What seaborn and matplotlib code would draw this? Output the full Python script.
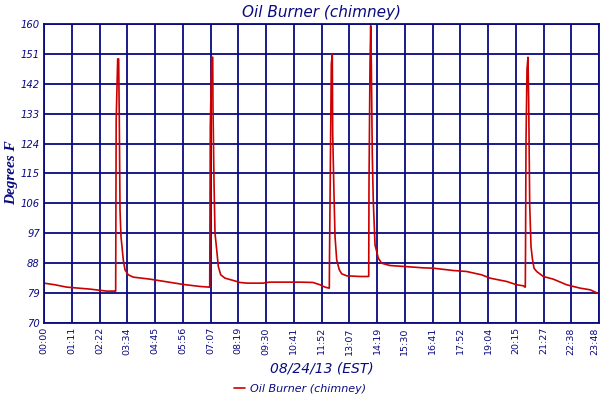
import matplotlib
matplotlib.use("Agg")
import matplotlib.pyplot as plt
import seaborn as sns
import numpy as np
import pandas as pd

# ---- data (minutes after midnight, degrees F) ----
minutes = [0, 28.3, 58.4, 118.4, 161.3, 183.5, 184.4, 185.7, 189.6, 192.1, 193.7, 195.6,
           198.1, 201.5, 204, 208.4, 216.9, 229.8, 272.7, 315.7, 358.4, 401.4, 425.3,
           426.4, 427.9, 431.5, 434.1, 434.8, 437.4, 440, 444.4, 448.5, 454.7, 465.7,
           487.1, 504.3, 522.3, 563.5, 573, 581.5, 658.7, 692.1, 710.1, 723, 733.3,
           734.1, 734.6, 737.7, 739.3, 741.8, 742.8, 746.2, 748.8, 753.1, 759.8, 766,
           778.9, 813.1, 834.4, 835.5, 836.2, 838.8, 840.6, 842.2, 844.7, 847.3, 851.7,
           856, 860.2, 868.9, 890.3, 928.9, 976, 1001.7, 1053.1, 1087.6, 1126.2,
           1147.6, 1190.5, 1216.3, 1233.3, 1237.6, 1238.4, 1238.9, 1240.2, 1242.8,
           1245.3, 1247.1, 1249.7, 1253.1, 1256.4, 1260.8, 1267.7, 1284.7, 1310.4,
           1344.9, 1379.1, 1404.9, 1428]
temps = [82.0, 81.5, 80.8, 80.2, 79.6, 79.6, 79.6, 131, 149.5, 149.5, 131.5, 104,
         96, 92, 89, 86, 84.5, 83.8, 83.2, 82.4, 81.6, 81.0, 80.8,
         80.8, 129.2, 150, 150, 135.5, 112.5, 97, 92, 87, 84.5, 83.5,
         82.8, 82.2, 82.0, 82.0, 82.2, 82.3, 82.3, 82.2, 81.5, 80.8, 80.5,
         80.5, 89.5, 128.5, 148, 151, 127, 108.5, 96, 89, 86, 84.8,
         84.2, 84.0, 84.0, 84.0, 111.5, 148, 159.5, 148, 120.5, 106.5, 93.5,
         91.5, 89.5, 88, 87.3, 87.0, 86.6, 86.5, 85.8, 85.5, 84.5,
         83.5, 82.5, 81.5, 81.2, 80.8, 80.8, 90.5, 125, 146.5,
         150, 136.5, 105.5, 93, 89.5, 86.5, 85.5, 84, 83.2,
         81.5, 80.5, 80.0, 78.8]
x_tick_labels = ["00:00", "01:11", "02:22", "03:34", "04:45", "05:56", "07:07",
                 "08:19", "09:30", "10:41", "11:52", "13:07", "14:19", "15:30",
                 "16:41", "17:52", "19:04", "20:15", "21:27", "22:38", "23:48"]
y_ticks = [70, 79, 88, 97, 106, 115, 124, 133, 142, 151, 160]
series_name = "Oil Burner (chimney)"
title = "Oil Burner (chimney)"
x_label = "08/24/13 (EST)"
y_label = "Degrees F"

df = pd.DataFrame({"minutes": minutes, "temp": temps})

sns.set_style("white")
plt.rcParams["font.family"] = ["DejaVu Sans"]

NAVY = "#0a0a80"
RED = "#cc0000"

fig = plt.figure(figsize=(6, 4), dpi=100)
ax = fig.add_axes([44 / 600, 77 / 400, 555 / 600, 299 / 400])

sns.lineplot(data=df, x="minutes", y="temp", ax=ax, color=RED, linewidth=1.2,
             label=series_name, legend=False)

ax.set_xlim(0, 1428)
ax.set_ylim(70, 160)
ax.set_xticks(np.linspace(0, 1428, len(x_tick_labels)))
ax.set_xticklabels(x_tick_labels, rotation=90, fontsize=6.8, color=NAVY)
ax.get_xticklabels()[-1].set_horizontalalignment("right")
ax.set_yticks(y_ticks)
ax.set_yticklabels([str(v) for v in y_ticks], fontsize=7.2, color=NAVY, style="italic")
ax.tick_params(axis="both", length=0, pad=3)

ax.grid(True, color=NAVY, linewidth=1.3)
ax.set_axisbelow(True)
for s in ax.spines.values():
    s.set_color(NAVY)
    s.set_linewidth(1.3)

ax.set_title(title, fontsize=11, style="italic", color=NAVY, pad=5)
ax.set_xlabel(x_label, fontsize=10, style="italic", color=NAVY, labelpad=5)
ax.set_ylabel("")
fig.text(12 / 600, 1 - 173 / 400, y_label, rotation=90, ha="center", va="center",
         fontsize=11, style="italic", weight="bold", color=NAVY,
         family=["Liberation Serif"])

handles, labels = ax.get_legend_handles_labels()
leg = fig.legend(handles, labels, loc="center", bbox_to_anchor=(0.5, 11 / 400),
                 frameon=False, fontsize=8, handlelength=1.0, handletextpad=0.4)
for t in leg.get_texts():
    t.set_color(NAVY)
    t.set_style("italic")

fig.savefig("out.png", dpi=100)
